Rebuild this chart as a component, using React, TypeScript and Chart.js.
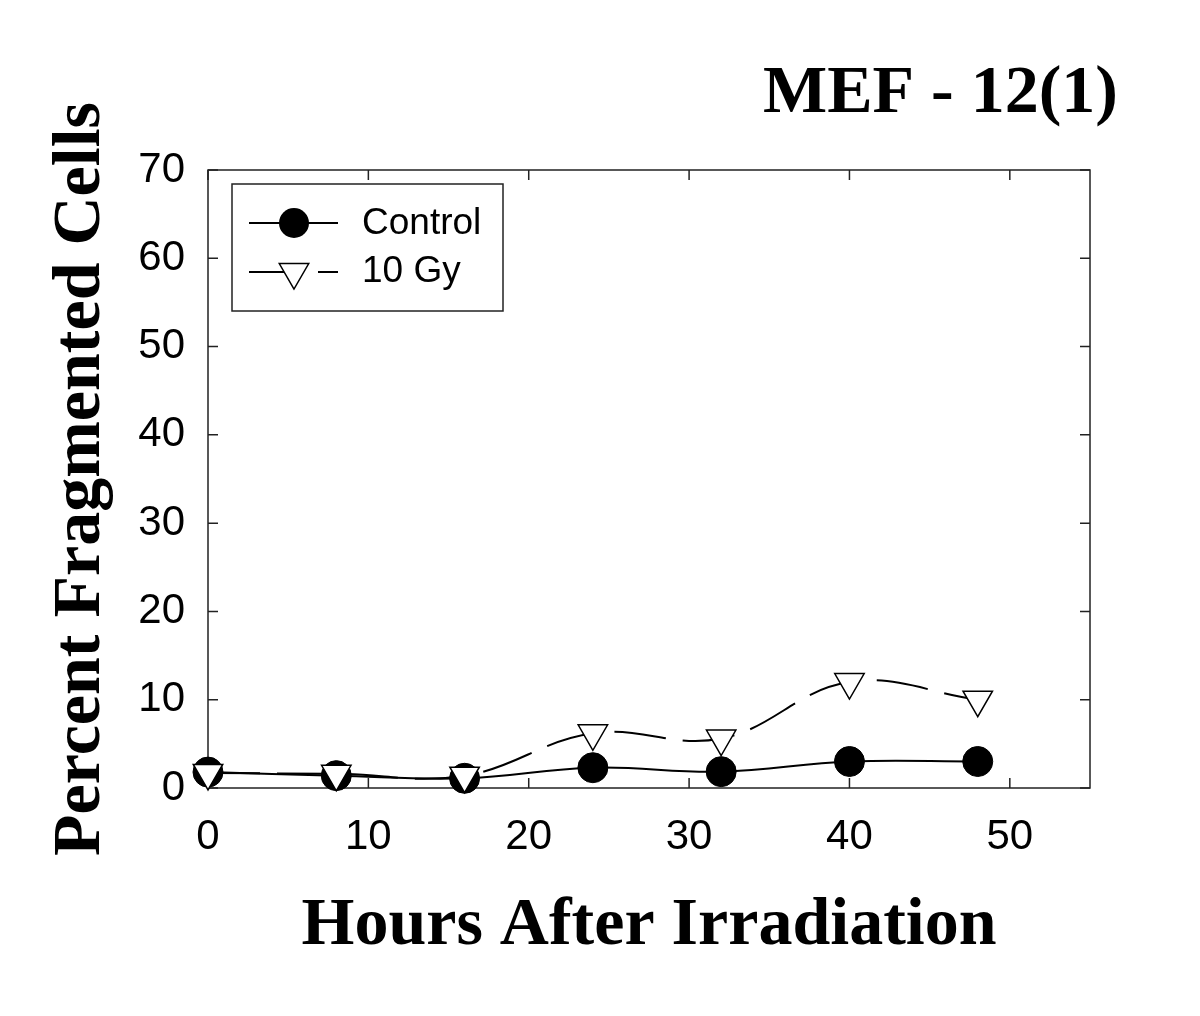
import React, { useEffect, useRef } from 'react';
import { Chart, registerables } from 'chart.js';

Chart.register(...registerables);

const hours = [0, 8, 16, 24, 32, 40, 48];
const controlValues = [1.8, 1.4, 1.1, 2.3, 1.85, 3.0, 3.0];
const gyValues = [1.7, 1.6, 1.4, 6.2, 5.6, 12.0, 10.0];
const xTicks = [0, 10, 20, 30, 40, 50];
const yTicks = [0, 10, 20, 30, 40, 50, 60, 70];
const seriesLabels = ['Control', '10 Gy'];
const chartTitle = 'MEF - 12(1)';
const xTitle = 'Hours After Irradiation';
const yTitle = 'Percent Fragmented Cells';

const SERIF = 'Liberation Serif, Times New Roman, serif';
const SANS = 'Liberation Sans, Arial, sans-serif';
const DASH = [52, 17];

const framePlugin = {
  id: 'frameTicks',
  beforeDatasetsDraw(chart: any) {
    const { ctx, chartArea } = chart;
    const { left, right, top, bottom } = chartArea;
    const xs = chart.scales.x;
    const ys = chart.scales.y;
    ctx.save();
    ctx.strokeStyle = '#222';
    ctx.lineWidth = 1.5;
    ctx.strokeRect(left, top, right - left, bottom - top);
    const tl = 10;
    ctx.beginPath();
    xTicks.forEach((v) => {
      const px = xs.getPixelForValue(v);
      ctx.moveTo(px, bottom);
      ctx.lineTo(px, bottom - tl);
      ctx.moveTo(px, top);
      ctx.lineTo(px, top + tl);
    });
    yTicks.forEach((v) => {
      const py = ys.getPixelForValue(v);
      ctx.moveTo(left, py);
      ctx.lineTo(left + tl, py);
      ctx.moveTo(right, py);
      ctx.lineTo(right - tl, py);
    });
    ctx.stroke();
    ctx.restore();
  },
};

const legendPlugin = {
  id: 'boxLegend',
  afterDatasetsDraw(chart: any) {
    const { ctx, chartArea } = chart;
    const bx = chartArea.left + 24;
    const by = chartArea.top + 14;
    const bw = 271;
    const bh = 127;
    ctx.save();
    ctx.fillStyle = '#fff';
    ctx.fillRect(bx, by, bw, bh);
    ctx.strokeStyle = '#222';
    ctx.lineWidth = 1.5;
    ctx.strokeRect(bx, by, bw, bh);

    const lineX0 = bx + 17;
    const lineX1 = bx + 106;
    const symX = bx + 62;
    const textX = bx + 130;
    const rows = [by + 39, by + 88];

    // Control row
    const ds0 = chart.data.datasets[1];
    ctx.strokeStyle = '#000';
    ctx.lineWidth = 2;
    ctx.setLineDash([]);
    ctx.beginPath();
    ctx.moveTo(lineX0, rows[0]);
    ctx.lineTo(lineX1, rows[0]);
    ctx.stroke();
    ctx.beginPath();
    ctx.arc(symX, rows[0], 15, 0, Math.PI * 2);
    ctx.fillStyle = '#000';
    ctx.fill();

    // 10 Gy row
    const ds1 = chart.data.datasets[0];
    ctx.setLineDash(DASH);
    ctx.beginPath();
    ctx.moveTo(lineX0, rows[1]);
    ctx.lineTo(lineX1, rows[1]);
    ctx.stroke();
    ctx.setLineDash([]);
    const r = 17;
    ctx.beginPath();
    ctx.moveTo(symX, rows[1] + r);
    ctx.lineTo(symX - r * Math.sin(Math.PI / 3), rows[1] - r / 2);
    ctx.lineTo(symX + r * Math.sin(Math.PI / 3), rows[1] - r / 2);
    ctx.closePath();
    ctx.fillStyle = '#fff';
    ctx.fill();
    ctx.lineWidth = 1.5;
    ctx.stroke();

    ctx.fillStyle = '#000';
    ctx.font = `37px ${SANS}`;
    ctx.textAlign = 'left';
    ctx.textBaseline = 'middle';
    ctx.fillText(ds0.label, textX, rows[0] + 1);
    ctx.fillText(ds1.label, textX, rows[1]);
    ctx.restore();
  },
};

export default function App() {
  const ref = useRef<HTMLCanvasElement>(null);

  useEffect(() => {
    if (!ref.current) return;
    const chart = new Chart(ref.current, {
      type: 'line',
      data: {
        datasets: [
          {
            label: seriesLabels[1],
            data: hours.map((h, i) => ({ x: h, y: gyValues[i] })),
            borderColor: '#000',
            borderWidth: 2,
            borderDash: DASH,
            tension: 0.4,
            pointStyle: 'triangle',
            pointRotation: 180,
            pointRadius: 17,
            pointBackgroundColor: '#fff',
            pointBorderColor: '#000',
            pointBorderWidth: 1.5,
            order: 0,
            clip: false,
          } as any,
          {
            label: seriesLabels[0],
            data: hours.map((h, i) => ({ x: h, y: controlValues[i] })),
            borderColor: '#000',
            borderWidth: 2,
            tension: 0.4,
            pointStyle: 'circle',
            pointRadius: 15,
            pointBackgroundColor: '#000',
            pointBorderColor: '#000',
            pointBorderWidth: 1,
            order: 1,
            clip: false,
          } as any,
        ],
      },
      options: {
        responsive: false,
        animation: false,
        events: [],
        layout: { padding: { left: 0, right: 82, top: 0, bottom: 0 } },
        plugins: {
          legend: { display: false },
          tooltip: { enabled: false },
          title: {
            display: true,
            text: chartTitle,
            align: 'end',
            color: '#000',
            font: { family: SERIF, size: 68, weight: 'bold', lineHeight: 1.2 },
            padding: { top: 54, bottom: 34.4 },
          },
        },
        scales: {
          x: {
            type: 'linear',
            position: 'bottom',
            min: 0,
            max: 55,
            grid: { display: false },
            border: { display: false },
            afterFit: (s: any) => {
              s.height = 228;
            },
            afterBuildTicks: (s: any) => {
              s.ticks = xTicks.map((v) => ({ value: v }));
            },
            ticks: {
              color: '#000',
              font: { family: SANS, size: 42 },
              padding: 16,
              maxRotation: 0,
              autoSkip: false,
            },
            title: {
              display: true,
              text: xTitle,
              color: '#000',
              font: { family: SERIF, size: 68, weight: 'bold', lineHeight: 1.2 },
              padding: { top: 0, bottom: 49 },
            },
          },
          y: {
            type: 'linear',
            position: 'left',
            min: 0,
            max: 70,
            grid: { display: false },
            border: { display: false },
            afterFit: (s: any) => {
              s.width = 208;
            },
            afterBuildTicks: (s: any) => {
              s.ticks = yTicks.map((v) => ({ value: v }));
            },
            ticks: {
              color: '#000',
              font: { family: SANS, size: 42 },
              padding: 15,
              autoSkip: false,
            },
            title: {
              display: true,
              text: yTitle,
              color: '#000',
              font: { family: SERIF, size: 68, weight: 'bold', lineHeight: 1.2 },
              padding: { top: 41, bottom: 0 },
            },
          },
          yR: {
            type: 'linear',
            position: 'right',
            min: 0,
            max: 70,
            grid: { display: false },
            border: { display: false },
            ticks: { display: false },
            afterFit: (s: any) => {
              s.width = 28;
            },
          },
        },
      } as any,
      plugins: [framePlugin, legendPlugin],
    });
    return () => chart.destroy();
  }, []);

  return (
    <div style={{ position: 'absolute', left: 0, top: 0, width: 1200, height: 1016, background: '#fff' }}>
      <canvas ref={ref} width={1200} height={1016} />
    </div>
  );
}
